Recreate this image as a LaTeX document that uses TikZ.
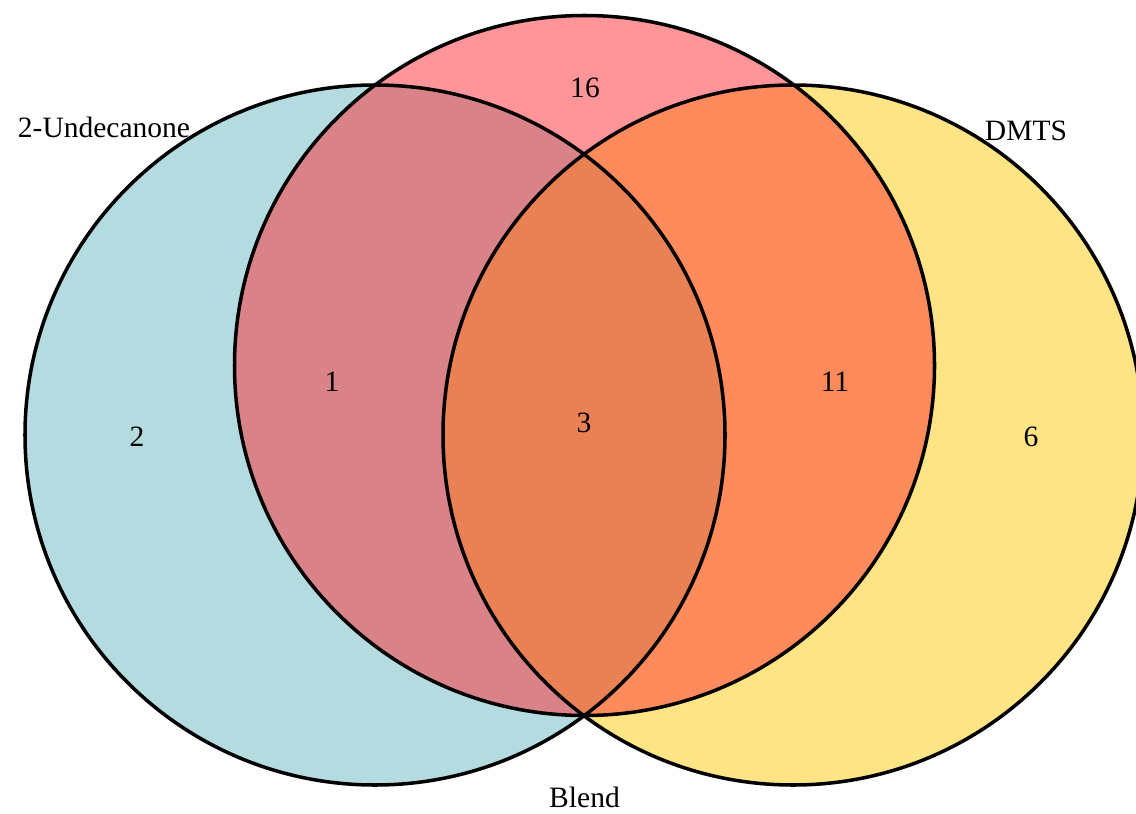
\documentclass[tikz,border=0pt]{standalone}
\usepackage{fontspec}
\setmainfont{Liberation Serif}
\definecolor{cblue}{HTML}{B4DBE0}
\definecolor{cred}{HTML}{FF9599}
\definecolor{cyellow}{HTML}{FEE484}
\definecolor{cbr}{HTML}{D98287}
\definecolor{cry}{HTML}{FF8A5C}
\definecolor{call}{HTML}{EA8155}
\tikzset{
  outline/.style={draw=black, line width=2.5pt},
  lbl/.style={font=\fontsize{21}{25}\selectfont, inner sep=0pt},
}
\begin{document}
\begin{tikzpicture}[x=0.025cm, y=-0.025cm]
\useasboundingbox (0,0) rectangle (1136,814);
\begin{scope}
\clip (0,0) rectangle (1136,814);
\coordinate (cL) at (375,435);
\coordinate (cM) at (584.5,365.5);
\coordinate (cR) at (793,435);
\def\r{350}
% base fills
\fill[cblue] (cL) circle[radius=\r];
\fill[cyellow] (cR) circle[radius=\r];
\fill[cred] (cM) circle[radius=\r];
% pairwise overlaps
\begin{scope}
  \clip (cL) circle[radius=\r];
  \fill[cbr] (cM) circle[radius=\r];
\end{scope}
\begin{scope}
  \clip (cR) circle[radius=\r];
  \fill[cry] (cM) circle[radius=\r];
\end{scope}
\begin{scope}
  \clip (cL) circle[radius=\r];
  \clip (cR) circle[radius=\r];
  \fill[call] (cM) circle[radius=\r];
\end{scope}
% outlines
\draw[outline] (cL) circle[radius=\r];
\draw[outline] (cM) circle[radius=\r];
\draw[outline] (cR) circle[radius=\r];
\end{scope}
% labels
\node[lbl] (setL) at (104,127) {2-Undecanone};
\node[lbl] (setR) at (1026,131) {DMTS};
\node[lbl] (setM) at (584.5,797) {Blend};
\node[lbl] (nM) at (585,88) {16};
\node[lbl] (nL) at (137,437) {2};
\node[lbl] (nLM) at (332,382) {1};
\node[lbl] (nLMR) at (584,423) {3};
\node[lbl] (nMR) at (835,382) {11};
\node[lbl] (nR) at (1031,437) {6};
\end{tikzpicture}
\end{document}
